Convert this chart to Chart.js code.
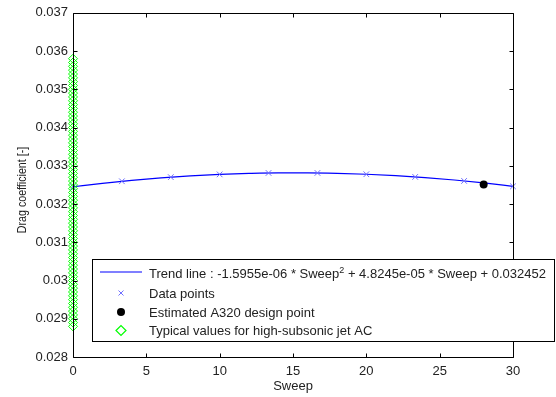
<!DOCTYPE html>
<html>
<head>
<meta charset="utf-8">
<script src="https://cdn.jsdelivr.net/npm/chart.js@4"></script>
<style>
  html, body { margin: 0; padding: 0; background: #fff; }
  #wrap { width: 556px; height: 397px; }
</style>
</head>
<body>
<div id="wrap"><canvas id="c" width="556" height="397"></canvas></div>
<script>
// ---- data ----
const trendSweep = [0, 2, 4, 6, 8, 10, 12, 14, 16, 18, 20, 22, 24, 26, 28, 30];
const trendCd = [0.032452, 0.032542, 0.032619, 0.032684, 0.032736, 0.032775, 0.032801, 0.032815,
                 0.032815, 0.032803, 0.032779, 0.032741, 0.032691, 0.032628, 0.032552, 0.032463];

const dataSweep = [0, 3.333, 6.667, 10, 13.333, 16.667, 20, 23.333, 26.667, 30];
const dataCd = [0.032452, 0.032595, 0.032703, 0.032775, 0.032812, 0.032813, 0.032779, 0.032709, 0.032604, 0.032463];

const designSweep = [28];
const designCd = [0.03251];

const typicalCd = [0.0288, 0.0289, 0.0290, 0.0291, 0.0292, 0.0293, 0.0294, 0.0295, 0.0296, 0.0297,
                   0.0298, 0.0299, 0.0300, 0.0301, 0.0302, 0.0303, 0.0304, 0.0305, 0.0306, 0.0307,
                   0.0308, 0.0309, 0.0310, 0.0311, 0.0312, 0.0313, 0.0314, 0.0315, 0.0316, 0.0317,
                   0.0318, 0.0319, 0.0320, 0.0321, 0.0322, 0.0323, 0.0324, 0.0325, 0.0326, 0.0327,
                   0.0328, 0.0329, 0.0330, 0.0331, 0.0332, 0.0333, 0.0334, 0.0335, 0.0336, 0.0337,
                   0.0338, 0.0339, 0.0340, 0.0341, 0.0342, 0.0343, 0.0344, 0.0345, 0.0346, 0.0347,
                   0.0348, 0.0349, 0.0350, 0.0351, 0.0352, 0.0353, 0.0354, 0.0355, 0.0356, 0.0357, 0.0358];
const typicalSweep = typicalCd.map(() => 0);

const xTicks = [0, 5, 10, 15, 20, 25, 30];
const yTicks = [0.028, 0.029, 0.030, 0.031, 0.032, 0.033, 0.034, 0.035, 0.036, 0.037];

const xTitle = 'Sweep';
const yTitle = 'Drag coefficient [-]';
const legendLabels = [
  ['Trend line : -1.5955e-06 * Sweep', '2', ' + 4.8245e-05 * Sweep + 0.032452'],
  ['Data points'],
  ['Estimated A320 design point'],
  ['Typical values for high-subsonic jet AC']
];

// ---- styles ----
const FONT = '"Liberation Sans", Arial, Helvetica, sans-serif';
const BLUE = '#0000ff';
const LIGHTBLUE = '#7070ff';
const GREEN = '#00ff00';
const TEXT = '#222';

const pts = (xs, ys) => xs.map((v, i) => ({ x: v, y: ys[i] }));

const boxPlugin = {
  id: 'matlabBox',
  afterDatasetsDraw(chart) {
    const { ctx, chartArea: a, scales: { x, y } } = chart;
    ctx.save();
    ctx.strokeStyle = '#000';
    ctx.lineWidth = 1;
    const L = Math.round(a.left) + 0.5, R = Math.round(a.right) + 0.5;
    const T = Math.round(a.top) + 0.5, B = Math.round(a.bottom) + 0.5;
    ctx.beginPath();
    ctx.rect(L, T, R - L, B - T);
    const tl = 4;
    xTicks.forEach(v => {
      const px = Math.round(x.getPixelForValue(v)) + 0.5;
      ctx.moveTo(px, B); ctx.lineTo(px, B - tl);
      ctx.moveTo(px, T); ctx.lineTo(px, T + tl);
    });
    yTicks.forEach(v => {
      const py = Math.round(y.getPixelForValue(v)) + 0.5;
      ctx.moveTo(L, py); ctx.lineTo(L + tl, py);
      ctx.moveTo(R, py); ctx.lineTo(R - tl, py);
    });
    ctx.stroke();

    // legend box
    const lx = 92.5, ly = 259.5, lw = 462, lh = 82;
    ctx.fillStyle = '#fff';
    ctx.fillRect(lx, ly, lw, lh);
    ctx.strokeRect(lx, ly, lw, lh);
    const rows = [273.5, 293, 312, 330.5];
    const mx = 121;
    // line sample
    ctx.strokeStyle = BLUE; ctx.lineWidth = 1.2;
    ctx.beginPath(); ctx.moveTo(100, rows[0] - 1.5); ctx.lineTo(142, rows[0] - 1.5); ctx.stroke();
    // x marker
    ctx.strokeStyle = LIGHTBLUE; ctx.lineWidth = 1;
    ctx.beginPath();
    ctx.moveTo(mx - 2.5, rows[1] - 2.5); ctx.lineTo(mx + 2.5, rows[1] + 2.5);
    ctx.moveTo(mx + 2.5, rows[1] - 2.5); ctx.lineTo(mx - 2.5, rows[1] + 2.5);
    ctx.stroke();
    // black dot
    ctx.fillStyle = '#000';
    ctx.beginPath(); ctx.arc(mx, rows[2], 4, 0, Math.PI * 2); ctx.fill();
    // green diamond
    ctx.strokeStyle = GREEN; ctx.lineWidth = 1.2;
    ctx.beginPath();
    ctx.moveTo(mx - 5, rows[3]); ctx.lineTo(mx, rows[3] - 5);
    ctx.lineTo(mx + 5, rows[3]); ctx.lineTo(mx, rows[3] + 5); ctx.closePath();
    ctx.stroke();
    // texts
    ctx.fillStyle = TEXT;
    ctx.textBaseline = 'alphabetic';
    ctx.textAlign = 'left';
    const baselines = [278, 298, 317, 335];
    legendLabels.forEach((parts, i) => {
      let tx = 149;
      parts.forEach((p, j) => {
        const sup = parts.length === 3 && j === 1;
        ctx.font = (sup ? '9px ' : '13px ') + FONT;
        ctx.fillText(p, tx, baselines[i] - (sup ? 5 : 0));
        tx += ctx.measureText(p).width;
      });
    });
    ctx.restore();
  },
  afterDraw(chart) {
    const { ctx, chartArea: a } = chart;
    ctx.save();
    ctx.fillStyle = TEXT;
    ctx.font = '13px ' + FONT;
    ctx.textAlign = 'center';
    ctx.textBaseline = 'alphabetic';
    ctx.fillText(xTitle, (a.left + a.right) / 2, 390);
    ctx.translate(26, 190);
    ctx.rotate(-Math.PI / 2);
    ctx.scale(0.82, 1);
    ctx.fillText(yTitle, 0, 0);
    ctx.restore();
  }
};

new Chart(document.getElementById('c'), {
  type: 'scatter',
  data: {
    datasets: [
      {
        label: 'Typical values for high-subsonic jet AC',
        data: pts(typicalSweep, typicalCd),
        pointStyle: 'rectRot', radius: 4.5, borderWidth: 1,
        borderColor: GREEN, backgroundColor: 'rgba(0,0,0,0)',
        clip: false
      },
      {
        label: 'Estimated A320 design point',
        data: pts(designSweep, designCd),
        pointStyle: 'circle', radius: 4, borderWidth: 0,
        backgroundColor: '#000', borderColor: '#000'
      },
      {
        label: 'Data points',
        data: pts(dataSweep, dataCd),
        pointStyle: 'crossRot', radius: 4, borderWidth: 1,
        borderColor: LIGHTBLUE, clip: false
      },
      {
        label: 'Trend line',
        data: pts(trendSweep, trendCd),
        showLine: true, pointRadius: 0, borderWidth: 1.2,
        borderColor: BLUE, tension: 0.4, cubicInterpolationMode: 'monotone'
      }
    ]
  },
  options: {
    responsive: false,
    animation: false,
    devicePixelRatio: 1,
    layout: { padding: { top: 12, right: 43, left: 0, bottom: 0 } },
    plugins: { legend: { display: false }, tooltip: { enabled: false } },
    scales: {
      x: {
        type: 'linear', min: 0, max: 30,
        afterBuildTicks: s => { s.ticks = xTicks.map(v => ({ value: v })); },
        ticks: { font: { family: FONT, size: 13 }, color: TEXT, padding: 7, maxRotation: 0 },
        grid: { display: false, drawTicks: false },
        border: { display: false },
        afterFit: s => { s.height = 40; }
      },
      y: {
        type: 'linear', min: 0.028, max: 0.037,
        afterBuildTicks: s => { s.ticks = yTicks.map(v => ({ value: v })); },
        ticks: {
          font: { family: FONT, size: 13 }, color: TEXT, padding: 5,
          callback: v => String(parseFloat(Number(v).toFixed(3)))
        },
        grid: { display: false, drawTicks: false },
        border: { display: false },
        afterFit: s => { s.width = 73; }
      }
    }
  },
  plugins: [boxPlugin]
});
</script>
</body>
</html>
